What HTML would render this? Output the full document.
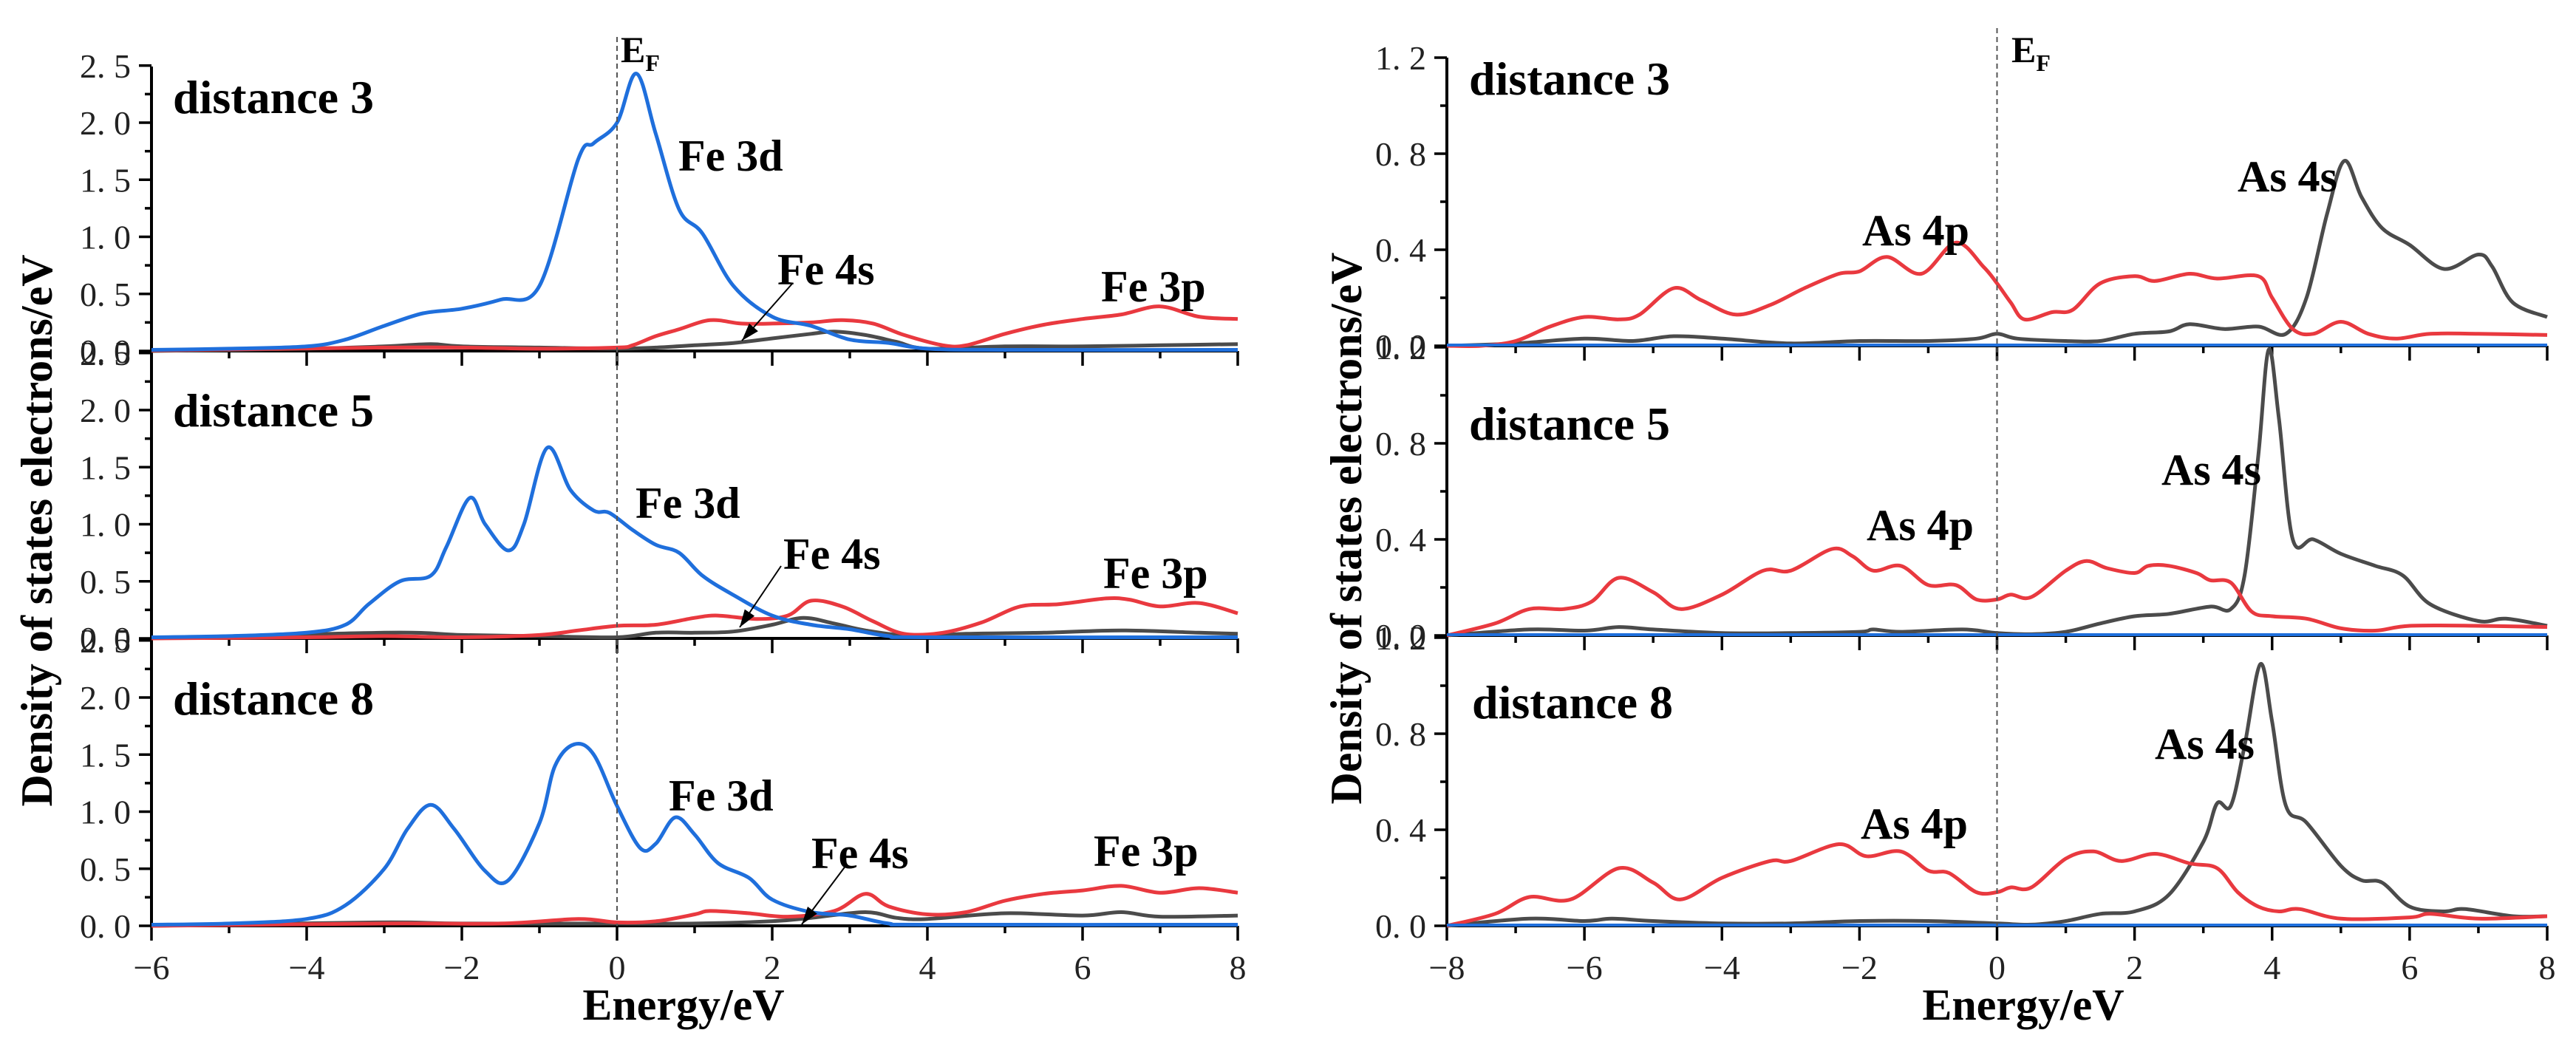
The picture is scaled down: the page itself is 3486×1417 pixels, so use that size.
<!DOCTYPE html>
<html><head><meta charset="utf-8"><style>
html,body{margin:0;padding:0;background:#fff;}
svg{display:block;}
text{font-family:"Liberation Serif",serif;}
.tk{font-size:46px;fill:#222;}
.lb{font-size:60px;font-weight:bold;}
.dt{font-size:64px;font-weight:bold;}
.ttl{font-size:60px;font-weight:bold;}
</style></head><body>
<svg id="chart" width="3486" height="1417" viewBox="0 0 3486 1417" xmlns="http://www.w3.org/2000/svg"></svg>
<script>
// ---- Left (Fe) data ----
const feE3d_1=[-6,-5,-4,-3.5,-3,-2.5,-2,-1.5,-1,-0.5,-0.3,0,0.25,0.5,0.8,1.1,1.5,2,2.5,3,3.5,4,5,8];
const feV3d_1=[0.01,0.02,0.04,0.1,0.22,0.33,0.37,0.45,0.57,1.68,1.82,2.0,2.43,1.9,1.24,1.03,0.57,0.3,0.22,0.1,0.07,0.02,0.01,0.01];
const feE3p_1=[-6,-3,-2,-1,0,0.2,0.5,0.8,1.2,1.6,2,2.5,2.9,3.3,3.7,4.2,4.5,5,5.5,6,6.5,7,7.5,8];
const feV3p_1=[0.005,0.03,0.03,0.02,0.03,0.05,0.13,0.19,0.27,0.24,0.24,0.25,0.27,0.24,0.14,0.05,0.05,0.15,0.23,0.28,0.32,0.39,0.3,0.28];
const feE4s_1=[-6,-4,-3,-2.4,-2,-1,0,0.5,1,1.5,2,2.5,2.8,3.2,3.6,4,5,6,7,8];
const feV4s_1=[0,0.02,0.04,0.06,0.04,0.03,0.02,0.03,0.05,0.07,0.11,0.15,0.17,0.14,0.08,0.02,0.04,0.04,0.05,0.06];

const feE3d_2=[-6,-5,-4,-3.5,-3.2,-2.8,-2.4,-2.2,-1.9,-1.7,-1.4,-1.2,-0.9,-0.6,-0.3,-0.1,0.2,0.5,0.8,1.1,1.5,2,2.5,3,3.5,4,8];
const feV3d_2=[0.01,0.02,0.05,0.12,0.3,0.5,0.55,0.8,1.23,1.0,0.77,1.0,1.67,1.3,1.12,1.1,0.95,0.82,0.75,0.55,0.38,0.2,0.12,0.08,0.02,0.01,0.01];
const feE3p_2=[-6,-4,-3,-2,-1,-0.5,0,0.5,1,1.3,1.8,2.2,2.5,2.9,3.3,3.7,4.2,4.7,5.2,5.7,6.3,6.6,7,7.5,8];
const feV3p_2=[0,0.01,0.02,0.01,0.03,0.07,0.11,0.12,0.18,0.2,0.17,0.2,0.33,0.28,0.15,0.04,0.05,0.14,0.28,0.3,0.35,0.34,0.28,0.31,0.22];
const feE4s_2=[-6,-3,-2,-1,0,0.5,1,1.5,2,2.4,2.8,3.2,3.8,4.5,5.5,6.5,7.5,8];
const feV4s_2=[0,0.05,0.03,0.02,0.01,0.05,0.05,0.06,0.12,0.18,0.13,0.07,0.02,0.04,0.05,0.07,0.05,0.04];

const feE3d_3=[-6,-5,-4,-3.5,-3,-2.7,-2.4,-2.1,-1.7,-1.4,-1.0,-0.8,-0.55,-0.3,0,0.3,0.5,0.75,1.0,1.3,1.7,2,2.5,3,3.5,4,8];
const feV3d_3=[0.01,0.02,0.06,0.18,0.5,0.85,1.06,0.85,0.48,0.4,0.9,1.4,1.59,1.5,1.05,0.68,0.72,0.95,0.8,0.55,0.42,0.23,0.12,0.09,0.02,0.01,0.01];
const feE3p_3=[-6,-3,-1.5,-0.5,0,0.5,1,1.2,1.7,2.2,2.8,3.2,3.5,4,4.5,5,5.5,6,6.5,7,7.5,8];
const feV3p_3=[0,0.02,0.02,0.06,0.03,0.04,0.1,0.13,0.11,0.08,0.13,0.28,0.17,0.1,0.12,0.22,0.28,0.31,0.35,0.29,0.33,0.29];
const feE4s_3=[-6,-3.1,-2,0,1,2,2.5,3.2,3.6,4,5,6,6.5,7,8];
const feV4s_3=[0,0.03,0.02,0.02,0.02,0.04,0.07,0.12,0.07,0.06,0.11,0.09,0.12,0.08,0.09];

// ---- Right (As) data ----
const asE4p_1=[-8,-7.5,-7,-6.5,-6,-5.5,-5.2,-4.7,-4.3,-3.8,-3.3,-2.8,-2.3,-2,-1.6,-1.1,-0.6,-0.2,0,0.2,0.4,0.8,1.1,1.5,2,2.3,2.8,3.2,3.8,4.0,4.3,4.6,5,5.4,5.8,6.3,7,8];
const asV4p_1=[0,0,0.02,0.08,0.12,0.11,0.13,0.24,0.19,0.13,0.17,0.24,0.3,0.31,0.37,0.3,0.43,0.33,0.26,0.18,0.11,0.14,0.15,0.26,0.29,0.27,0.3,0.28,0.29,0.2,0.07,0.05,0.1,0.05,0.03,0.05,0.05,0.045];
const asE4s_1=[-8,-7,-6,-5.3,-4.7,-4,-3,-2,-1,-0.3,0,0.3,1,1.5,2,2.5,2.8,3.3,3.8,4.2,4.5,4.8,5.05,5.3,5.6,6,6.5,7,7.2,7.5,8];
const asV4s_1=[0,0.01,0.03,0.02,0.04,0.03,0.01,0.02,0.02,0.03,0.05,0.03,0.02,0.02,0.05,0.06,0.09,0.07,0.08,0.05,0.2,0.55,0.77,0.62,0.49,0.42,0.32,0.38,0.33,0.18,0.12];

const asE4p_2=[-8,-7.3,-6.8,-6.3,-5.9,-5.5,-5,-4.6,-4,-3.4,-3,-2.4,-2.1,-1.8,-1.4,-1.0,-0.6,-0.3,0,0.2,0.5,1,1.3,1.6,2,2.2,2.5,2.9,3.1,3.4,3.7,4,4.5,5,5.5,6,7,8];
const asV4p_2=[0,0.05,0.11,0.11,0.14,0.24,0.18,0.11,0.17,0.27,0.27,0.36,0.33,0.27,0.29,0.21,0.21,0.15,0.15,0.17,0.16,0.27,0.31,0.28,0.26,0.29,0.29,0.26,0.23,0.22,0.1,0.08,0.07,0.03,0.02,0.04,0.04,0.035];
const asE4s_2=[-8,-6.8,-6,-5.5,-5,-4,-3,-2,-1.8,-1.4,-0.5,0,0.5,1,1.5,2,2.5,3.1,3.4,3.6,3.8,3.95,4.1,4.3,4.6,5,5.5,5.9,6.3,7,7.4,8];
const asV4s_2=[0,0.025,0.02,0.035,0.025,0.01,0.01,0.015,0.025,0.015,0.025,0.01,0.005,0.015,0.05,0.08,0.09,0.12,0.11,0.25,0.75,1.19,0.9,0.4,0.4,0.34,0.29,0.25,0.13,0.06,0.07,0.04];

const asE4p_3=[-8,-7.3,-6.8,-6.2,-5.5,-5,-4.6,-4,-3.3,-3,-2.3,-1.9,-1.4,-1,-0.7,-0.3,0,0.2,0.5,1,1.4,1.8,2.3,2.8,3.2,3.5,3.8,4.1,4.4,5,6,6.3,7,8];
const asV4p_3=[0,0.05,0.12,0.11,0.24,0.18,0.11,0.2,0.27,0.27,0.34,0.29,0.31,0.23,0.22,0.14,0.14,0.16,0.16,0.28,0.31,0.27,0.3,0.26,0.24,0.14,0.08,0.06,0.07,0.03,0.035,0.05,0.03,0.04];
const asE4s_3=[-8,-6.8,-6,-5.6,-5,-4,-3,-2,-1,0,0.5,1,1.5,2,2.5,3,3.2,3.4,3.6,3.83,4.0,4.2,4.5,5,5.3,5.6,6,6.5,6.8,7.5,8];
const asV4s_3=[0,0.03,0.02,0.03,0.02,0.01,0.01,0.02,0.02,0.01,0.005,0.02,0.05,0.06,0.13,0.35,0.51,0.5,0.75,1.09,0.85,0.5,0.43,0.25,0.19,0.18,0.08,0.06,0.07,0.04,0.04];

const leftTicksX=[-6,-4,-2,0,2,4,6,8];
const rightTicksX=[-8,-6,-4,-2,0,2,4,6,8];
const leftTicksY=["0. 0","0. 5","1. 0","1. 5","2. 0","2. 5"];
const rightTicksY=["0. 0","0. 4","0. 8","1. 2"];

const NS="http://www.w3.org/2000/svg";
const svg=document.getElementById('chart');
function mk(tag,attrs,parent){const e=document.createElementNS(NS,tag);for(const k in attrs)e.setAttribute(k,attrs[k]);(parent||svg).appendChild(e);return e;}
const BLUE="#1f6fdc",RED="#e9393f",GRAY="#4b4b4b";

function smoothPath(pts){
  let d="M"+pts[0][0].toFixed(1)+","+pts[0][1].toFixed(1);
  for(let i=0;i<pts.length-1;i++){
    const p0=pts[Math.max(0,i-1)],p1=pts[i],p2=pts[i+1],p3=pts[Math.min(pts.length-1,i+2)];
    const c1=[p1[0]+(p2[0]-p0[0])/6,p1[1]+(p2[1]-p0[1])/6];
    const c2=[p2[0]-(p3[0]-p1[0])/6,p2[1]-(p3[1]-p1[1])/6];
    d+="C"+c1[0].toFixed(1)+","+c1[1].toFixed(1)+" "+c2[0].toFixed(1)+","+c2[1].toFixed(1)+" "+p2[0].toFixed(1)+","+p2[1].toFixed(1);
  }
  return d;
}

function panelChart(cfg){
  const g=mk('g',{});
  
  
  const sx=e=>cfg.x0+(e-cfg.xmin)*(cfg.x1-cfg.x0)/(cfg.xmax-cfg.xmin);
  const botAll=cfg.bases[cfg.bases.length-1];
  const ya=mk('line',{x1:cfg.x0,y1:cfg.top,x2:cfg.x0,y2:botAll,stroke:'#000','stroke-width':4},g);
  
  
  cfg.panels.forEach((p,pi)=>{
    const base=cfg.bases[pi];
    const sy=v=>base-v*cfg.pxPerUnit;
    const nMinor=Math.round(cfg.ymax/cfg.minorStep);
    for(let k=0;k<=nMinor;k++){
      const v=k*cfg.minorStep;const major=(k%2===0);
      mk('line',{x1:cfg.x0-(major?17:9),y1:sy(v),x2:cfg.x0,y2:sy(v),stroke:'#000','stroke-width':3.5},g);
      if(major){
        const t=mk('text',{x:cfg.x0-28,y:sy(v)+16,'text-anchor':'end',class:'tk'},g);
        t.textContent=cfg.yLabels[k/2];
        
        
      }
    }
    const xl=mk('line',{x1:cfg.x0,y1:base,x2:cfg.x1,y2:base,stroke:'#000','stroke-width':4},g);
    
    
    for(let e=cfg.xmin;e<=cfg.xmax;e+=1){
      const major=((e-cfg.xmin)%2===0);
      mk('line',{x1:sx(e),y1:base,x2:sx(e),y2:base+(major?20:10),stroke:'#000','stroke-width':3.5},g);
    }
    p.series.forEach(s=>{
      const pts=s.e.map((e,i)=>[sx(e),sy(s.v[i])]);
      const path=mk('path',{d:smoothPath(pts),fill:'none',stroke:s.c,'stroke-width':5,'stroke-linejoin':'round'},g);
      
      
    });
    if(cfg.blueBase){mk('line',{x1:cfg.x0,y1:base-1,x2:cfg.x1,y2:base-1,stroke:BLUE,'stroke-width':4},g);}
  });
  cfg.xTicks.forEach(e=>{
    const t=mk('text',{x:sx(e),y:botAll+72,'text-anchor':'middle',class:'tk'},g);
    t.textContent=(e<0?'−':'')+Math.abs(e);
    
    
  });
  const ef=mk('line',{x1:sx(0),y1:cfg.top-40,x2:sx(0),y2:botAll,stroke:'#555','stroke-width':2,'stroke-dasharray':'7,5'},g);
  
  
}

panelChart({name:'fe-dos-chart',x0:205,x1:1675,xmin:-6,xmax:8,top:90,bases:[475,864,1253],pxPerUnit:154.5,ymax:2.5,minorStep:0.25,
  yLabels:leftTicksY,xTicks:leftTicksX,blueBase:false,
  panels:[
   {series:[{e:feE4s_1,v:feV4s_1,c:GRAY,n:'fe-4s-line-d3'},{e:feE3p_1,v:feV3p_1,c:RED,n:'fe-3p-line-d3'},{e:feE3d_1,v:feV3d_1,c:BLUE,n:'fe-3d-line-d3'}]},
   {series:[{e:feE4s_2,v:feV4s_2,c:GRAY,n:'fe-4s-line-d5'},{e:feE3p_2,v:feV3p_2,c:RED,n:'fe-3p-line-d5'},{e:feE3d_2,v:feV3d_2,c:BLUE,n:'fe-3d-line-d5'}]},
   {series:[{e:feE4s_3,v:feV4s_3,c:GRAY,n:'fe-4s-line-d8'},{e:feE3p_3,v:feV3p_3,c:RED,n:'fe-3p-line-d8'},{e:feE3d_3,v:feV3d_3,c:BLUE,n:'fe-3d-line-d8'}]}
  ]});
panelChart({name:'as-dos-chart',x0:1958,x1:3447,xmin:-8,xmax:8,top:78,bases:[468,860,1253],pxPerUnit:325,ymax:1.2,minorStep:0.2,
  yLabels:rightTicksY,xTicks:rightTicksX,blueBase:true,
  panels:[
   {series:[{e:asE4s_1,v:asV4s_1,c:GRAY,n:'as-4s-line-d3'},{e:asE4p_1,v:asV4p_1,c:RED,n:'as-4p-line-d3'}]},
   {series:[{e:asE4s_2,v:asV4s_2,c:GRAY,n:'as-4s-line-d5'},{e:asE4p_2,v:asV4p_2,c:RED,n:'as-4p-line-d5'}]},
   {series:[{e:asE4s_3,v:asV4s_3,c:GRAY,n:'as-4s-line-d8'},{e:asE4p_3,v:asV4p_3,c:RED,n:'as-4p-line-d8'}]}
  ]});

const labels=[
 ['panel-title-d3-left','distance 3',234,153,'dt'],['panel-title-d5-left','distance 5',234,577,'dt'],['panel-title-d8-left','distance 8',234,967,'dt'],
 ['fe-3d-label','Fe 3d',918,231,'lb'],['fe-4s-label','Fe 4s',1052,385,'lb'],['fe-3p-label','Fe 3p',1490,408,'lb'],
 ['fe-3d-label','Fe 3d',860,701,'lb'],['fe-4s-label','Fe 4s',1060,770,'lb'],['fe-3p-label','Fe 3p',1493,796,'lb'],
 ['fe-3d-label','Fe 3d',905,1097,'lb'],['fe-4s-label','Fe 4s',1098,1175,'lb'],['fe-3p-label','Fe 3p',1480,1172,'lb'],
 ['panel-title-d3-right','distance 3',1988,128,'dt'],['panel-title-d5-right','distance 5',1988,595,'dt'],['panel-title-d8-right','distance 8',1992,972,'dt'],
 ['as-4p-label','As 4p',2520,332,'lb'],['as-4s-label','As 4s',3028,259,'lb'],
 ['as-4p-label','As 4p',2526,731,'lb'],['as-4s-label','As 4s',2925,656,'lb'],
 ['as-4p-label','As 4p',2518,1135,'lb'],['as-4s-label','As 4s',2916,1027,'lb']
];
labels.forEach(l=>{
  const t=mk('text',{x:l[2],y:l[3],class:l[4]});
  t.textContent=l[1];
  
  
});
[[1072,384,1004,461],[1057,766,1001,849],[1145,1171,1085,1251]].forEach(a=>{
  const g=mk('g',{});
  
  
  mk('line',{x1:a[0],y1:a[1],x2:a[2],y2:a[3],stroke:'#000','stroke-width':2},g);
  const dx=a[2]-a[0],dy=a[3]-a[1],L=Math.hypot(dx,dy),ux=dx/L,uy=dy/L;
  const bx=a[2]-ux*24,by=a[3]-uy*24;
  mk('polygon',{points:`${a[2]},${a[3]} ${bx-uy*8},${by+ux*8} ${bx+uy*8},${by-ux*8}`,fill:'#000'},g);
});
[[840,'fermi-label-left'],[2722,'fermi-label-right']].forEach(f=>{
  const t=mk('text',{x:f[0],y:84,style:'font-size:50px;font-weight:bold'});
  
  
  t.textContent='E';
  const s=mk('tspan',{dy:12,style:'font-size:32px'},t);
  s.textContent='F';
});
[[50,718,'y-axis-title-left'],[1822,715,'y-axis-title-right']].forEach(a=>{
  const t=mk('text',{x:a[0],y:a[1],class:'ttl','text-anchor':'middle',transform:`rotate(-90 ${a[0]} ${a[1]})`,dy:20});
  t.textContent='Density of states electrons/eV';
  
  
});
[[925,1380,'x-axis-title-left'],[2738,1380,'x-axis-title-right']].forEach(a=>{
  const t=mk('text',{x:a[0],y:a[1],class:'ttl','text-anchor':'middle'});
  t.textContent='Energy/eV';
  
  
});
</script>
</body></html>
